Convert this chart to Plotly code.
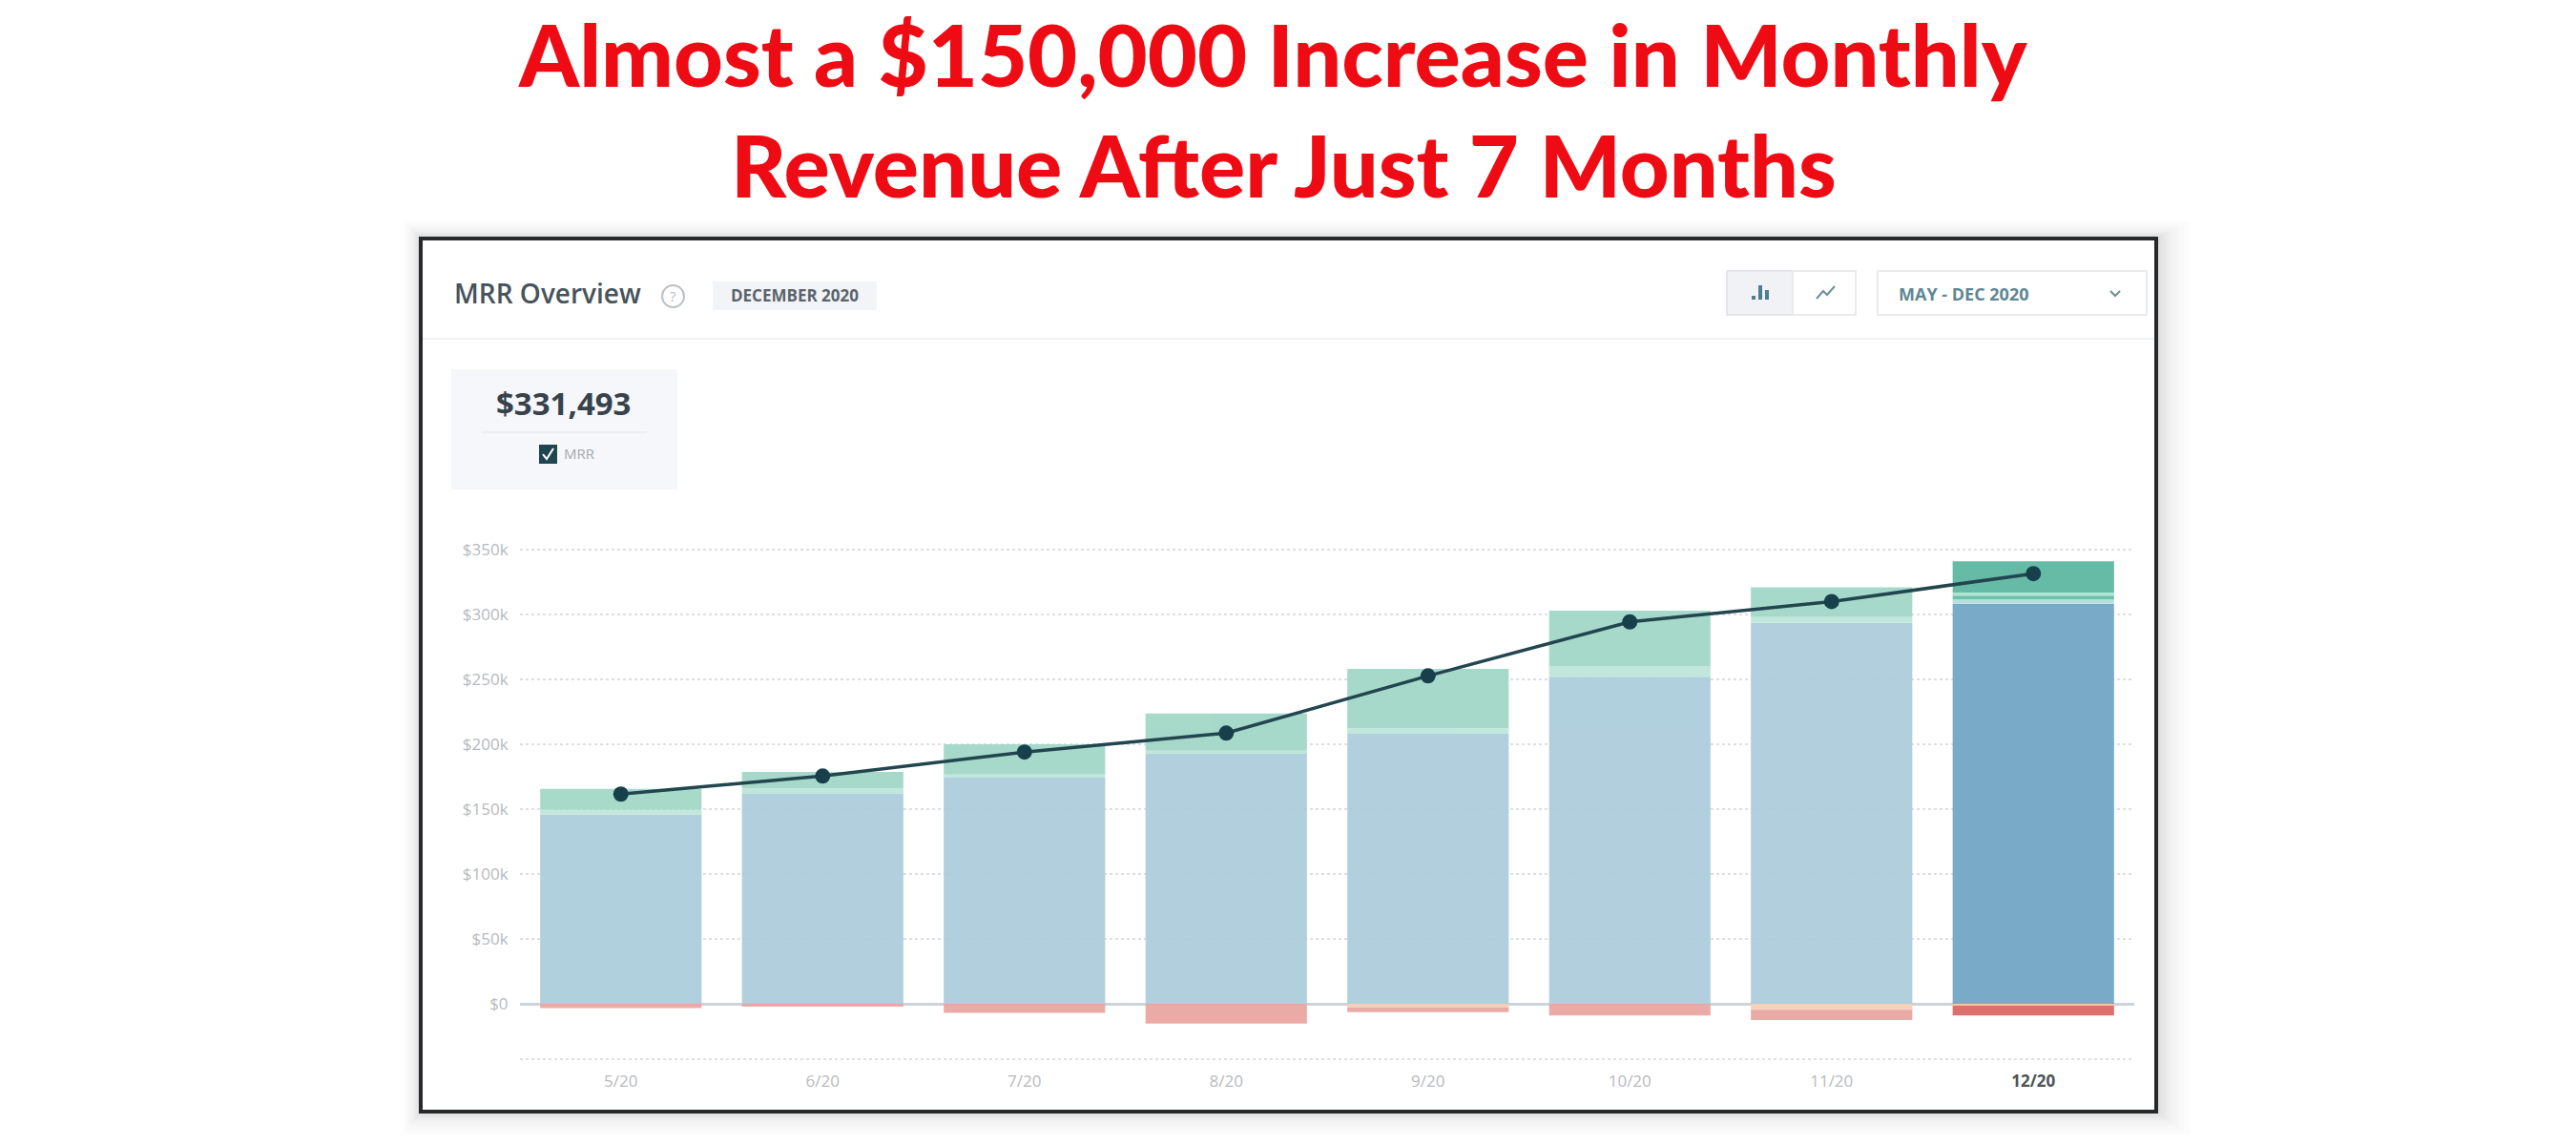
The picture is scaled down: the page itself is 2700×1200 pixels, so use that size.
import plotly.graph_objects as go

W, H = 2700, 1200
FONT = "Open Sans"

# ---- data (thousands of dollars) ----
months = ["5/20", "6/20", "7/20", "8/20", "9/20", "10/20", "11/20", "12/20"]
base = [146, 161.8, 174.2, 192.6, 208, 252, 293.6, 308.3]
strip_low = [3.5, 4.2, 2.5, 2.4, 4.3, 8, 4.4, 3.2]
strip_mid = [0, 0, 0, 0, 0, 0, 0, 3]
strip_high = [0, 0, 0, 0, 0, 0, 0, 2.5]
top = [16.2, 12.7, 23.3, 28.8, 45.7, 43, 23, 24]
contraction = [0, 0, 0, 0, -2.7, 0, -4.6, -1.5]
churn = [-3.4, -2.2, -7, -15.3, -3.7, -9, -7.9, -7.5]
mrr = [161.6, 175.5, 194, 208.6, 252.7, 294.3, 310, 331.493]
y_ticks = [0, 50, 100, 150, 200, 250, 300, 350]
y_labels = ["$0", "$50k", "$100k", "$150k", "$200k", "$250k", "$300k", "$350k"]
x_labels = ["5/20", "6/20", "7/20", "8/20", "9/20", "10/20", "11/20",
            '<span style="color:#4d5358"><b>12/20</b></span>']
title_lines = ["Almost a $150,000 Increase in Monthly", "Revenue After Just 7 Months"]


def per_bar(light, dark):
    return [light] * 7 + [dark]


series = [
    ("Base", base, per_bar("#aecedc", "#74a8c7")),
    ("Strip low", strip_low, per_bar("#bfe7db", "#b3e0dd")),
    ("Strip mid", strip_mid, per_bar("#a4d8c8", "#6abea8")),
    ("Strip high", strip_high, per_bar("#bfe7db", "#ace3d2")),
    ("New", top, per_bar("#a4d8c8", "#60b8a3")),
    ("Contraction", contraction, per_bar("#f6cfb8", "#f3c4a6")),
    ("Churn", churn, per_bar("#eaa8a4", "#d86b67")),
]

# ---- plot frame in pixels ----
PX_LEFT, PX_RIGHT = 545, 2237
PX_ZERO, PX_PER_K = 1052, 1.36
PX_BOTTOM, PX_TOP = 1110, 560


def fx(px):
    return px / W


def fy(px):
    return 1 - px / H


fig = go.Figure()
for name, vals, cols in series:
    fig.add_bar(x=months, y=vals, name=name, marker=dict(color=cols, line_width=0),
                opacity=0.96, showlegend=False)
fig.add_scatter(x=months, y=mrr, mode="lines+markers", name="MRR", showlegend=False,
                line=dict(color="#22464f", width=3.5),
                marker=dict(color="#17404c", size=16))


def rect(x0, y0, x1, y1, fill="rgba(0,0,0,0)", line="rgba(0,0,0,0)", lw=0, layer="below"):
    return dict(type="rect", xref="paper", yref="paper", x0=fx(x0), x1=fx(x1), y0=fy(y0), y1=fy(y1),
                fillcolor=fill, line=dict(color=line, width=lw), layer=layer)


def hline(x0, x1, y, color, lw=1.5, dash="solid"):
    return dict(type="line", xref="paper", yref="paper", x0=fx(x0), x1=fx(x1), y0=fy(y), y1=fy(y),
                line=dict(color=color, width=lw, dash=dash), layer="below")


def seg(points, color, lw=2):
    path = "M " + " L ".join(f"{fx(a):.5f},{fy(b):.5f}" for a, b in points)
    return dict(type="path", xref="paper", yref="paper", path=path,
                line=dict(color=color, width=lw), layer="below")


shapes = []
# soft card shadow, fading outwards
for d in [34, 28, 23, 19, 15, 12, 10, 8, 6, 4, 3, 2]:
    shapes.append(rect(440 - d * 0.5, 249 - d * 0.5, 2261 + d, 1165 + d * 0.7, fill="rgba(70,70,70,0.017)"))
# card
shapes.append(rect(441, 250, 2260, 1165, fill="#ffffff", line="#26282a", lw=4))
# header rule
shapes.append(hline(443, 2258, 355, "#f1f2f4", 2))
# help icon
shapes.append(dict(type="circle", xref="paper", yref="paper", x0=fx(694), x1=fx(717), y0=fy(299), y1=fy(322),
                   fillcolor="rgba(0,0,0,0)", line=dict(color="#bcc0c4", width=2), layer="below"))
# date badge
shapes.append(rect(747, 295, 919, 325, fill="#f3f4f7"))
# kpi box
shapes.append(rect(473, 387, 710, 513, fill="#f5f7fa"))
shapes.append(hline(505, 678, 453, "#e9ebef", 1.5))
shapes.append(rect(565, 466, 584, 486, fill="#1f4650"))
shapes.append(seg([(569, 476), (573, 481), (580, 470)], "#ffffff", 2))
# chart-type buttons
shapes.append(rect(1810, 284, 1879, 330, fill="#f0f2f6", line="#e3e5ea", lw=2))
shapes.append(rect(1879, 284, 1945, 330, fill="#ffffff", line="#e9ebee", lw=2))
for cx, ytop in [(1838, 310), (1845, 299), (1852, 304)]:
    shapes.append(rect(cx - 2, ytop, cx + 2, 314, fill="#4f7f8e"))
shapes.append(seg([(1904, 313), (1911, 305), (1915, 309), (1923, 300)], "#6b8f9a", 2))
# date dropdown
shapes.append(rect(1968, 284, 2250, 330, fill="#ffffff", line="#e9ebee", lw=2))
shapes.append(seg([(2212, 305), (2217, 310), (2222, 305)], "#6f8f9a", 2))
# bottom dotted rule of the plot
shapes.append(hline(PX_LEFT, PX_RIGHT, PX_BOTTOM, "#dfe1e4", 2, "dot"))


def label(text, x, y, size, color, anchor="left", weight="normal", family=FONT):
    return dict(text=text, x=fx(x), y=fy(y), xref="paper", yref="paper",
                xanchor=anchor, yanchor="middle", showarrow=False,
                font=dict(family=family, size=size, color=color, weight=weight))


annotations = [
    label(title_lines[0], 1334, 56, 90, "#ee0b14", "center", 900, "Lato"),
    label(title_lines[1], 1345, 172, 90, "#ee0b14", "center", 900, "Lato"),
    label("MRR Overview", 474, 307, 28, "#47525b", weight=600),
    label("?", 705, 310, 15, "#bcc0c4", "center"),
    label("DECEMBER 2020", 833, 309, 17, "#59646d", "center", 700),
    label("$331,493", 591, 422, 33, "#37424c", "center", 700),
    label("MRR", 589, 475, 15, "#a4a9ad"),
    label("MAY - DEC 2020", 1988, 308, 18, "#5f8794", weight=700),
]

fig.update_layout(
    width=W, height=H, barmode="relative", bargap=0.2,
    margin=dict(l=0, r=0, t=0, b=0), paper_bgcolor="#ffffff", plot_bgcolor="rgba(0,0,0,0)",
    shapes=shapes, annotations=annotations, hovermode=False,
    xaxis=dict(domain=[fx(PX_LEFT), fx(PX_RIGHT)], type="category", categoryorder="array", categoryarray=months,
               range=[-0.5, 7.5], tickmode="array", tickvals=months, ticktext=x_labels,
               showgrid=False, zeroline=False, showline=False,
               ticks="outside", ticklen=8, tickcolor="rgba(0,0,0,0)",
               tickfont=dict(family=FONT, size=17, color="#b7babd")),
    yaxis=dict(domain=[fy(PX_BOTTOM), fy(PX_TOP)],
               range=[(PX_ZERO - PX_BOTTOM) / PX_PER_K, (PX_ZERO - PX_TOP) / PX_PER_K],
               tickmode="array", tickvals=y_ticks, ticktext=y_labels,
               showgrid=True, gridcolor="#dcdfe3", gridwidth=1.5, griddash="dot",
               zeroline=True, zerolinecolor="#cdd3da", zerolinewidth=3, showline=False,
               ticks="outside", ticklen=8, tickcolor="rgba(0,0,0,0)",
               tickfont=dict(family=FONT, size=17, color="#b7babd")),
)

fig.write_html("out.html", config={"displayModeBar": False},
               post_script="document.body.style.margin='0';document.body.style.overflow='hidden';")
